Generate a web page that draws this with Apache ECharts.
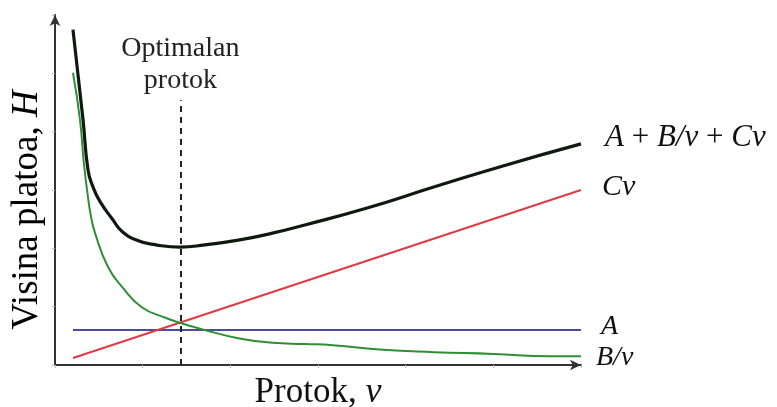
<!DOCTYPE html>
<html><head><meta charset="utf-8">
<script src="https://cdn.jsdelivr.net/npm/echarts@6/dist/echarts.min.js"></script>
<style>html,body{margin:0;padding:0;background:#fff}#c{width:777px;height:407px}</style>
</head><body><div id="c"></div>
<script>
// Flow (v) and plate height (H) values
const totalV = [0.205, 0.32, 0.377, 0.434, 0.514, 0.66, 0.765, 0.95, 1.15, 1.43, 1.71, 2.09, 2.48, 2.85, 3.56, 4.32, 5.08, 6.0];
const totalH = [5.75, 4.20, 3.34, 3.05, 2.80, 2.49, 2.29, 2.13, 2.06, 2.02, 2.06, 2.14, 2.26, 2.40, 2.69, 3.05, 3.40, 3.79];
const bvV = [0.205, 0.285, 0.33, 0.37, 0.41, 0.457, 0.605, 0.765, 0.99, 1.26, 1.43, 1.71, 2.09, 2.48, 2.85, 3.17, 3.74, 4.32, 5.0, 5.65, 6.0];
const bvH = [5.01, 4.20, 3.45, 2.95, 2.55, 2.26, 1.68, 1.34, 0.99, 0.81, 0.72, 0.60, 0.46, 0.38, 0.36, 0.34, 0.26, 0.22, 0.19, 0.15, 0.15];
const cvV = [0.205, 6.0];
const cvH = [0.12, 3.0];
const aV = [0.205, 6.0];
const aH = [0.60, 0.60];
const optimalV = 1.43;
const optimalTop = 4.54;
const axisMin = 0, axisMax = 6, axisStep = 1;

const zip = (xs, ys) => xs.map((x, i) => [x, ys[i]]);
const serif = 'Liberation Serif';
const txt = '#111';
const it = (size, lh) => ({fontFamily: serif, fontSize: size, fontStyle: 'italic', color: txt, lineHeight: lh || size});
const rm = (size, lh) => ({fontFamily: serif, fontSize: size, color: txt, lineHeight: lh || size});

const chart = echarts.init(document.getElementById('c'), null, {renderer: 'canvas'});
chart.setOption({
  animation: false,
  backgroundColor: '#fff',
  grid: {left: 55, right: 196, top: 15, bottom: 42, containLabel: false, outerBoundsMode: 'none'},
  graphic: [{
    type: 'text', x: 27, y: 210, rotation: Math.PI / 2,
    style: {text: '{n|Visina platoa, }{i|H}', align: 'center', verticalAlign: 'middle',
      rich: {n: rm(37), i: it(37)}}
  }],
  xAxis: {
    type: 'value', min: axisMin, max: axisMax, interval: axisStep,
    name: '{n|Protok, }{i|v}', nameLocation: 'middle', nameGap: 10,
    nameTextStyle: {rich: {n: rm(35), i: it(36)}},
    axisLine: {show: true, lineStyle: {color: '#333', width: 2}, symbol: ['none', 'arrow'], symbolSize: [8, 11]},
    axisTick: {show: true, inside: false, length: 3, lineStyle: {color: '#bbb'}},
    axisLabel: {show: false},
    splitLine: {show: false}
  },
  yAxis: {
    type: 'value', min: axisMin, max: axisMax, interval: axisStep,
    axisLine: {show: true, lineStyle: {color: '#333', width: 2}, symbol: ['none', 'arrow'], symbolSize: [8, 11]},
    axisTick: {show: true, inside: false, length: 3, lineStyle: {color: '#bbb'}},
    axisLabel: {show: false},
    splitLine: {show: false}
  },
  series: [
    {
      type: 'line', data: zip(aV, aH), showSymbol: false,
      lineStyle: {color: '#4b4ba6', width: 2.2},
      endLabel: {show: true, formatter: '{i|A}', distance: 20, offset: [0, -3],
        rich: {i: it(28, 21)}}
    },
    {
      type: 'line', data: zip(cvV, cvH), showSymbol: false,
      lineStyle: {color: '#e23a44', width: 2},
      endLabel: {show: true, formatter: '{i|Cv}', distance: 21, offset: [0, -3],
        rich: {i: it(30)}}
    },
    {
      type: 'line', data: zip(bvV, bvH), showSymbol: false, smooth: 0.5,
      lineStyle: {color: '#2f8f35', width: 2},
      endLabel: {show: true, formatter: '{i|B/v}', distance: 15, offset: [0, 1],
        rich: {i: it(28, 21)}}
    },
    {
      type: 'line', data: zip(totalV, totalH), showSymbol: false, smooth: 0.5,
      lineStyle: {color: '#0d1a0d', width: 3.2},
      endLabel: {show: true, formatter: '{i|A }{n|+ }{i|B/v }{n|+ }{i|Cv}', distance: 24, offset: [0, -6],
        rich: {i: it(31), n: rm(31)}},
      markLine: {
        silent: true, symbol: ['none', 'none'], animation: false,
        lineStyle: {color: '#222', width: 2, type: [6, 5]},
        label: {show: true, position: 'end', formatter: '{t|Optimalan}\n{t|protok}', distance: 4,
          rich: {t: {fontFamily: serif, fontSize: 28, lineHeight: 32, color: '#222', align: 'center'}}},
        data: [[{coord: [optimalV, 0]}, {coord: [optimalV, optimalTop]}]]
      }
    }
  ]
});
</script>
</body></html>
